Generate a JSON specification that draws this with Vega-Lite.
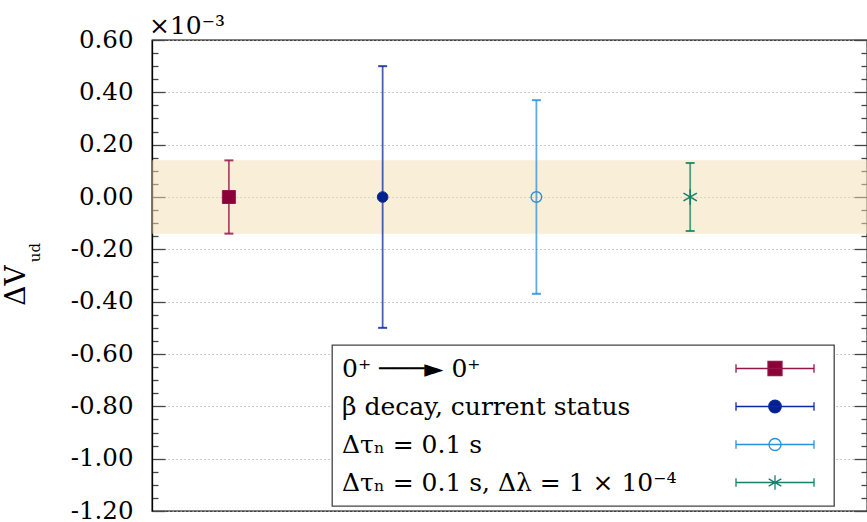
{
  "$schema": "https://vega.github.io/schema/vega-lite/v6.json",
  "width": 715,
  "height": 471,
  "autosize": {"type": "none"},
  "padding": {"left": 152, "top": 40, "right": 0, "bottom": 11},
  "background": "white",
  "title": {"text": "×10⁻³", "anchor": "start", "frame": "group", "offset": 8, "dx": -3, "dy": 20, "font": "DejaVu Serif", "fontSize": 25, "fontWeight": "normal", "color": "black"},
  "config": {
    "view": {"stroke": "black", "strokeWidth": 1.3},
    "legend": {
      "orient": "none",
      "legendX": 180,
      "legendY": 305,
      "title": null,
      "symbolFillColor": "white",
      "symbolOpacity": 1,
      "symbolStrokeWidth": 1.3,
      "symbolSize": 625,
      "symbolOffset": 419.5,
      "labelOffset": -446.5,
      "labelLimit": 1000,
      "labelFont": "DejaVu Serif",
      "labelFontSize": 25,
      "labelColor": "black",
      "labelBaseline": "middle",
      "rowPadding": 11,
      "padding": 10,
      "strokeColor": "#444444",
      "strokeWidth": 1.3,
      "fillColor": "white"
    }
  },
  "datasets": {
    "band": [{"lo": -0.14, "hi": 0.14}],
    "pts": [
      {"series": "0⁺ ───► 0⁺", "x": 1, "y": 0, "lo": -0.14, "hi": 0.14},
      {"series": "β decay, current status", "x": 2, "y": 0, "lo": -0.5, "hi": 0.5},
      {"series": "Δτₙ = 0.1 s", "x": 3, "y": 0, "lo": -0.37, "hi": 0.37},
      {"series": "Δτₙ = 0.1 s, Δλ = 1 × 10⁻⁴", "x": 4, "y": 0, "lo": -0.13, "hi": 0.13}
    ]
  },
  "resolve": {"axis": {"y": "independent"}},
  "layer": [
    {
      "data": {"name": "band"},
      "mark": {"type": "rect", "fill": "#F4DDB0", "opacity": 0.5},
      "encoding": {
        "y": {
          "field": "lo", "type": "quantitative",
          "scale": {"domain": [-1.2, 0.6], "nice": false, "zero": false},
          "axis": {
            "orient": "left",
            "values": [-1.2,-1.15,-1.1,-1.05,-1,-0.95,-0.9,-0.85,-0.8,-0.75,-0.7,-0.65,-0.6,-0.55,-0.5,-0.45,-0.4,-0.35,-0.3,-0.25,-0.2,-0.15,-0.1,-0.05,0,0.05,0.1,0.15,0.2,0.25,0.3,0.35,0.4,0.45,0.5,0.55,0.6],
            "title": "ΔV",
            "titleFont": "DejaVu Serif", "titleFontSize": 28, "titleFontWeight": "normal", "titleColor": "black",
            "titleAngle": 270, "titleBaseline": "alphabetic", "titleAlign": "center", "titleX": -128, "titleY": 245,
            "labelExpr": "abs(datum.value*5 - round(datum.value*5)) < 0.001 ? (datum.value < -0.001 ? '-' : '') + format(abs(datum.value), '.2f') : ''",
            "labelFont": "DejaVu Serif", "labelFontSize": 24.5, "labelColor": "black",
            "labelPadding": 32, "labelOverlap": false, "labelFlush": false, "labelBound": false,
            "tickSize": {"condition": {"test": "abs(datum.value*5 - round(datum.value*5)) < 0.001", "value": -13}, "value": -6},
            "tickColor": "#444444", "tickWidth": 1.3,
            "domain": true, "domainColor": "black", "domainWidth": 1.3,
            "grid": true, "gridColor": "#aaaaaa", "gridDash": [1.3, 2.7], "gridWidth": 1,
            "gridOpacity": {"condition": {"test": "abs(datum.value*5 - round(datum.value*5)) < 0.001", "value": 1}, "value": 0}
          }
        },
        "y2": {"field": "hi"}
      }
    },
    {
      "data": {"name": "pts"},
      "mark": {"type": "rule", "strokeWidth": 1.8, "opacity": 0.75},
      "encoding": {
        "x": {"field": "x", "type": "quantitative", "scale": {"domain": [0.5, 5.15], "nice": false, "zero": false}, "axis": null},
        "y": {
          "field": "lo", "type": "quantitative",
          "axis": {
            "orient": "right",
            "values": [-1.2,-1.15,-1.1,-1.05,-1,-0.95,-0.9,-0.85,-0.8,-0.75,-0.7,-0.65,-0.6,-0.55,-0.5,-0.45,-0.4,-0.35,-0.3,-0.25,-0.2,-0.15,-0.1,-0.05,0,0.05,0.1,0.15,0.2,0.25,0.3,0.35,0.4,0.45,0.5,0.55,0.6],
            "labels": false, "domain": false, "grid": false,
            "tickSize": {"condition": {"test": "abs(datum.value*5 - round(datum.value*5)) < 0.001", "value": -13}, "value": -6},
            "tickColor": "#444444", "tickWidth": 1.3,
            "title": "ud",
            "titleFont": "DejaVu Serif", "titleFontSize": 15, "titleFontWeight": "normal", "titleColor": "black",
            "titleAngle": 270, "titleBaseline": "alphabetic", "titleAlign": "center", "titleX": -828, "titleY": 212
          }
        },
        "y2": {"field": "hi"},
        "stroke": {
          "field": "series", "type": "nominal",
          "scale": {"domain": ["0⁺ ───► 0⁺", "β decay, current status", "Δτₙ = 0.1 s", "Δτₙ = 0.1 s, Δλ = 1 × 10⁻⁴"], "range": ["#96164A", "#0B2A9E", "#2A90DA", "#16806B"]}
        }
      }
    },
    {
      "data": {"name": "pts"},
      "mark": {"type": "tick", "orient": "horizontal", "size": 9, "thickness": 2, "opacity": 0.85},
      "encoding": {
        "x": {"field": "x", "type": "quantitative", "axis": null},
        "y": {"field": "hi", "type": "quantitative", "axis": null},
        "color": {
          "field": "series", "type": "nominal",
          "scale": {"domain": ["Δτₙ = 0.1 s, Δλ = 1 × 10⁻⁴", "Δτₙ = 0.1 s", "β decay, current status", "0⁺ ───► 0⁺"], "range": ["#16806B", "#2A90DA", "#0B2A9E", "#96164A"]},
          "legend": null
        }
      }
    },
    {
      "data": {"name": "pts"},
      "mark": {"type": "tick", "orient": "horizontal", "size": 9, "thickness": 2, "opacity": 0.85},
      "encoding": {
        "x": {"field": "x", "type": "quantitative", "axis": null},
        "y": {"field": "lo", "type": "quantitative", "axis": null},
        "color": {"field": "series", "type": "nominal", "legend": null}
      }
    },
    {
      "data": {"name": "pts"},
      "transform": [{"filter": {"field": "x", "equal": 1}}],
      "mark": {"type": "point", "shape": "square", "filled": true, "size": 169, "strokeWidth": 1, "opacity": 1},
      "encoding": {
        "x": {"field": "x", "type": "quantitative", "axis": null},
        "y": {"field": "y", "type": "quantitative", "axis": null},
        "fill": {
          "field": "series", "type": "nominal",
          "scale": {"domain": ["0⁺ ───► 0⁺", "β decay, current status", "Δτₙ = 0.1 s", "Δτₙ = 0.1 s, Δλ = 1 × 10⁻⁴"], "range": ["#8B0038", "#00208C", "rgba(0,0,0,0)", "#0F7A66"]}
        },
        "stroke": {"field": "series", "type": "nominal"}
      }
    },
    {
      "data": {"name": "pts"},
      "transform": [{"filter": {"field": "x", "equal": 2}}],
      "mark": {"type": "point", "shape": "circle", "filled": true, "size": 113, "strokeWidth": 1, "opacity": 1},
      "encoding": {
        "x": {"field": "x", "type": "quantitative", "axis": null},
        "y": {"field": "y", "type": "quantitative", "axis": null},
        "fill": {"field": "series", "type": "nominal"},
        "stroke": {"field": "series", "type": "nominal"}
      }
    },
    {
      "data": {"name": "pts"},
      "transform": [{"filter": {"field": "x", "equal": 3}}],
      "mark": {"type": "point", "shape": "circle", "filled": true, "size": 113, "strokeWidth": 1.4, "opacity": 1},
      "encoding": {
        "x": {"field": "x", "type": "quantitative", "axis": null},
        "y": {"field": "y", "type": "quantitative", "axis": null},
        "fill": {"field": "series", "type": "nominal"},
        "stroke": {"field": "series", "type": "nominal"}
      }
    },
    {
      "data": {"name": "pts"},
      "transform": [{"filter": {"field": "x", "equal": 4}}],
      "mark": {"type": "point", "shape": "M0,-1L0,1M-0.866,-0.5L0.866,0.5M-0.866,0.5L0.866,-0.5", "filled": false, "size": 240, "strokeWidth": 1.6, "opacity": 1},
      "encoding": {
        "x": {"field": "x", "type": "quantitative", "axis": null},
        "y": {"field": "y", "type": "quantitative", "axis": null},
        "stroke": {"field": "series", "type": "nominal"}
      }
    },
    {
      "data": {"name": "pts"},
      "mark": {"type": "point", "filled": true, "opacity": 0},
      "encoding": {
        "x": {"field": "x", "type": "quantitative", "axis": null},
        "y": {"field": "y", "type": "quantitative", "axis": null},
        "fill": {"field": "series", "type": "nominal", "legend": {"labelFont": "DejaVu Serif", "labelFontSize": 25}},
        "stroke": {"field": "series", "type": "nominal", "legend": {"labelFont": "DejaVu Serif", "labelFontSize": 25}},
        "shape": {
          "field": "series", "type": "nominal",
          "scale": {
            "domain": ["0⁺ ───► 0⁺", "β decay, current status", "Δτₙ = 0.1 s", "Δτₙ = 0.1 s, Δλ = 1 × 10⁻⁴"],
            "range": [
              "M-3.12,0L3.12,0M-3.12,-0.344L-3.12,0.344M3.12,-0.344L3.12,0.344M-0.56,-0.56L0.56,-0.56L0.56,0.56L-0.56,0.56ZM3.68,0",
              "M-3.12,0L3.12,0M-3.12,-0.344L-3.12,0.344M3.12,-0.344L3.12,0.344M0.5,0A0.5,0.5,0,1,1,-0.5,0A0.5,0.5,0,1,1,0.5,0ZM3.68,0",
              "M-3.12,0L3.12,0M-3.12,-0.344L-3.12,0.344M3.12,-0.344L3.12,0.344M0.48,0A0.48,0.48,0,1,1,-0.48,0A0.48,0.48,0,1,1,0.48,0ZM3.68,0",
              "M-3.12,0L3.12,0M-3.12,-0.344L-3.12,0.344M3.12,-0.344L3.12,0.344M0,-0.584L0,0.584M-0.506,-0.292L0.506,0.292M-0.506,0.292L0.506,-0.292M3.68,0"
            ]
          },
          "legend": {"labelFont": "DejaVu Serif", "labelFontSize": 25}
        }
      }
    }
  ]
}
